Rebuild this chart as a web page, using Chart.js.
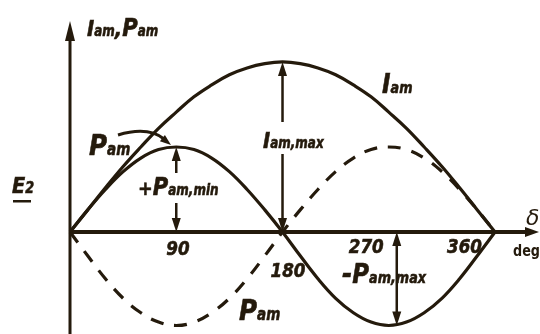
<!DOCTYPE html>
<html>
<head>
<meta charset="utf-8">
<script src="https://cdn.jsdelivr.net/npm/chart.js@4"></script>
<style>
  body { margin: 0; background: #fff; }
  #wrap { width: 540px; height: 334px; }
</style>
</head>
<body>
<div id="wrap"><canvas id="chart" width="540" height="334"></canvas></div>
<script>
// angle delta, degrees
const degrees = [0, 15, 30, 45, 60, 75, 90, 105, 120, 135, 150, 165, 180,
                 195, 210, 225, 240, 255, 270, 285, 300, 315, 330, 345, 360];
// I_am curve
const iam = [0, 0.26, 0.52, 0.77, 1.0, 1.22, 1.41, 1.59, 1.73, 1.85, 1.93, 1.98, 2.0,
             1.98, 1.93, 1.85, 1.73, 1.59, 1.41, 1.22, 1.0, 0.77, 0.52, 0.26, 0];
// P_am solid curve
const pam = [0, 0.26, 0.5, 0.71, 0.87, 0.97, 1.0, 0.97, 0.87, 0.71, 0.5, 0.26, 0,
             -0.28, -0.55, -0.78, -0.95, -1.06, -1.1, -1.06, -0.95, -0.78, -0.55, -0.28, 0];
// P_am dashed curve
const pamDash = [0, -0.28, -0.55, -0.78, -0.95, -1.06, -1.1, -1.06, -0.95, -0.78, -0.55, -0.28, 0,
                 0.26, 0.5, 0.71, 0.87, 0.97, 1.0, 0.97, 0.87, 0.71, 0.5, 0.26, 0];
const tickVals = [90, 180, 270, 360];
const tickText = ['90', '180', '270', '360'];

const ink = '#241a0c';
const face = "'DejaVu Sans', sans-serif";

function pts(ys) {
  return degrees.map((d, i) => ({ x: d, y: ys[i] }));
}

// narrow heavy italic text, returns its width
function narrow(ctx, txt, x, y, size, sq, draw) {
  ctx.save();
  ctx.font = 'italic bold ' + size + 'px ' + face;
  const w = ctx.measureText(txt).width * sq;
  if (draw !== false) {
    ctx.translate(x, y);
    ctx.scale(sq, 1);
    ctx.fillStyle = ink;
    ctx.strokeStyle = ink;
    ctx.lineWidth = 0.6;
    ctx.fillText(txt, 0, 0);
    ctx.strokeText(txt, 0, 0);
  }
  ctx.restore();
  return w;
}

// label made of big letters and subscripts: [text, size, isSub]
function label(ctx, x, y, parts, clear) {
  const sq = p => p[2] ? 0.8 : 0.88;
  if (clear) {
    let w = 0;
    parts.forEach(p => { w += narrow(ctx, p[0], 0, 0, p[1], sq(p), false); });
    ctx.fillStyle = '#fff';
    ctx.fillRect(x - 2, y - 19, w + 4, 23);
  }
  let cx = x;
  parts.forEach(p => {
    cx += narrow(ctx, p[0], cx, y, p[1], sq(p));
  });
}

function arrowHead(ctx, x, y, dx, dy, len, half) {
  const n = Math.hypot(dx, dy);
  const ux = dx / n, uy = dy / n;
  ctx.beginPath();
  ctx.moveTo(x, y);
  ctx.lineTo(x - ux * len - uy * half, y - uy * len + ux * half);
  ctx.lineTo(x - ux * len + uy * half, y - uy * len - ux * half);
  ctx.closePath();
  ctx.fill();
}

// vertical dimension arrow split around a label
function dimArrow(ctx, x, y0, y1, gapTop, gapBot) {
  ctx.strokeStyle = ink;
  ctx.fillStyle = ink;
  ctx.lineWidth = 2.5;
  const up = y1 < y0 ? -1 : 1;
  ctx.beginPath();
  ctx.moveTo(x, y1 - up * 8);
  ctx.lineTo(x, gapTop);
  ctx.moveTo(x, gapBot);
  ctx.lineTo(x, y0 + up * 8);
  ctx.stroke();
  arrowHead(ctx, x, y1, 0, up, 14, 4.5);
  arrowHead(ctx, x, y0, 0, -up, 14, 4.5);
}

const decor = {
  id: 'decor',
  beforeDatasetsDraw(chart) {
    const ctx = chart.ctx;
    const xs = chart.scales.x, ys = chart.scales.y;
    const x0 = xs.getPixelForValue(0), y0 = ys.getPixelForValue(0);
    ctx.save();
    ctx.strokeStyle = ink;
    ctx.fillStyle = ink;
    ctx.lineWidth = 3;
    ctx.beginPath();
    ctx.moveTo(x0, chart.height);
    ctx.lineTo(x0, 36);
    ctx.stroke();
    arrowHead(ctx, x0, 21, 0, -1, 20, 5);
    ctx.lineWidth = 4;
    ctx.beginPath();
    ctx.moveTo(x0, y0);
    ctx.lineTo(528, y0);
    ctx.stroke();
    arrowHead(ctx, 539, y0, 1, 0, 14, 5);
    ctx.restore();
  },
  afterDatasetsDraw(chart) {
    const ctx = chart.ctx;
    const xs = chart.scales.x, ys = chart.scales.y;
    const px = v => xs.getPixelForValue(v);
    const py = v => ys.getPixelForValue(v);
    const y0 = py(0);
    ctx.save();
    ctx.textBaseline = 'alphabetic';

    // tick labels
    const tickOff = [[-10, 23], [-12, 45], [-40, 21], [-48, 21]];
    tickVals.forEach((v, i) => {
      narrow(ctx, tickText[i], px(v) + tickOff[i][0], y0 + tickOff[i][1], 19, 0.88);
    });

    // dimension arrows
    const iMax = Math.max(...iam), pMax = Math.max(...pam), pMin = Math.min(...pam);
    dimArrow(ctx, px(180), y0, py(iMax), py(iMax) + 60, py(iMax) + 92);
    dimArrow(ctx, px(90), y0, py(pMax), py(pMax) + 26, py(pMax) + 56);
    dimArrow(ctx, px(270) + 8, y0, py(pMin), y0 + 30, y0 + 58);

    // pointer from upper P_am label
    ctx.lineWidth = 3;
    ctx.beginPath();
    ctx.moveTo(118, 135);
    ctx.quadraticCurveTo(148, 126, 164, 139);
    ctx.stroke();
    arrowHead(ctx, 171, 145, 1, 0.8, 11, 4);

    // texts
    label(ctx, 87, 36, [['I', 22], ['am', 15, 1], [',', 22], ['P', 24], ['am', 15, 1]]);
    label(ctx, 382, 93, [['I', 26], ['am', 16, 1]]);
    label(ctx, 89, 155, [['P', 28], ['am', 17, 1]]);
    label(ctx, 263, 148, [['I', 22], ['am,max', 15, 1]], true);
    label(ctx, 138, 195, [['+', 20], ['P', 24], ['am,min', 15, 1]]);
    label(ctx, 342, 283, [['-', 28], ['P', 26], ['am,max', 16, 1]]);
    label(ctx, 239, 320, [['P', 28], ['am', 17, 1]]);
    label(ctx, 12, 193, [['E', 22], ['2', 16, 1]]);
    ctx.fillStyle = ink;
    ctx.fillRect(13, 200, 18, 2.5);

    ctx.font = 'italic 22px DejaVu Sans';
    ctx.fillText('\u03b4', 526, 225);
    ctx.save();
    ctx.translate(513, 256);
    ctx.scale(0.8, 1);
    ctx.font = 'bold 16px DejaVu Sans';
    ctx.fillText('deg', 0, 0);
    ctx.restore();
    ctx.restore();
  }
};

new Chart(document.getElementById('chart'), {
  type: 'line',
  data: {
    datasets: [
      { label: 'I_am', data: pts(iam), borderColor: ink, borderWidth: 3.2, tension: 0.4 },
      { label: 'P_am', data: pts(pam), borderColor: ink, borderWidth: 3.2, tension: 0.4 },
      { label: 'P_am dashed', data: pts(pamDash), borderColor: ink, borderWidth: 3.2,
        borderDash: [13, 11], tension: 0.4 }
    ]
  },
  options: {
    responsive: false,
    animation: false,
    layout: { padding: 0 },
    elements: { point: { radius: 0 } },
    plugins: { legend: { display: false }, tooltip: { enabled: false } },
    scales: {
      x: { type: 'linear', display: false, min: -59.3, max: 398.1 },
      y: { display: false, min: -1.2, max: 2.729 }
    }
  },
  plugins: [decor]
});
</script>
</body>
</html>
